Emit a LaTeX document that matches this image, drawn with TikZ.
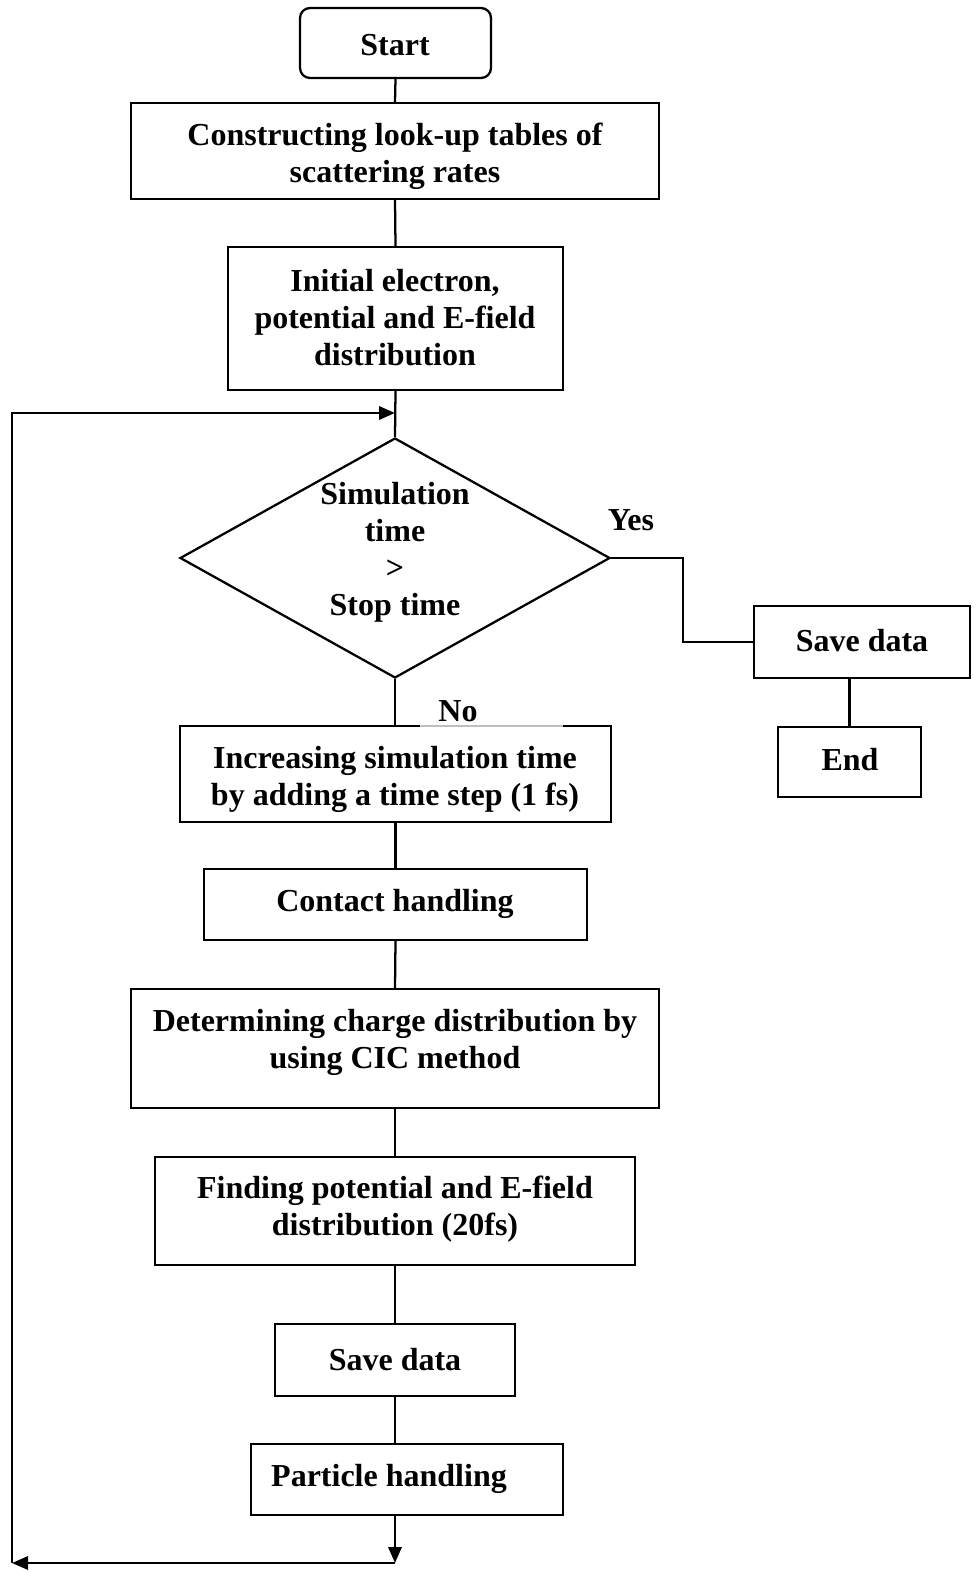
\documentclass[tikz,border=0pt]{standalone}
\usepackage{fontspec}
\setmainfont{Liberation Serif}
\usetikzlibrary{shapes.geometric,arrows.meta}
\tikzset{
  box/.style={draw,line width=1.7pt,inner sep=0pt},
  txt/.style={align=center,font=\bfseries\fontsize{24}{27.8}\selectfont,inner sep=0pt},
  con/.style={line width=1.7pt},
  arr/.style={line width=1.7pt,-{Triangle[length=12pt,width=10pt]}}
}
\begin{document}
\begin{tikzpicture}[x=0.75pt,y=-0.75pt]
\useasboundingbox (0,0) rectangle (977,1573);
% boxes
\node[box,rounded corners=7.5pt,minimum width=143.25pt,minimum height=52.5pt] (start) at (395.5,43) {};
\node[box,minimum width=396pt,minimum height=72pt] (b1) at (395,151) {};
\node[box,minimum width=251.25pt,minimum height=107.25pt] (b2) at (395.5,318.5) {};
\node[box,diamond,minimum width=322.5pt,minimum height=180pt] (dia) at (395,558) {};
\node[box,minimum width=162pt,minimum height=54pt] (saveR) at (862,642) {};
\node[box,minimum width=107.25pt,minimum height=52.5pt] (end) at (849.5,762) {};
\node[box,minimum width=323.25pt,minimum height=72pt] (b3) at (395.5,774) {};
\node[box,minimum width=287.25pt,minimum height=53.25pt] (contact) at (395.5,904.5) {};
\node[box,minimum width=396pt,minimum height=89.25pt] (det) at (395,1048.5) {};
\node[box,minimum width=360pt,minimum height=81pt] (find) at (395,1211) {};
\node[box,minimum width=180pt,minimum height=54pt] (save) at (395,1360) {};
\node[box,minimum width=234pt,minimum height=53.25pt] (part) at (407,1479.5) {};
% texts
\node[txt] (startt) at (395,45) {Start};
\node[txt] (b1t) at (395,156.5) {Constructing look-up tables of\\scattering rates};
\node[txt] (b2t) at (395,318) {Initial electron,\\potential and E-field\\distribution};
\node[txt] (diat) at (395,552) {Simulation\\time\\>\\Stop time};
\node[txt] (yes) at (631,520) {Yes};
\node[txt] (saveRt) at (862,641) {Save data};
\node[txt] (endt) at (850,760) {End};
\node[inner sep=0pt,fill=white,minimum width=107.25pt,minimum height=28.5pt] (nop) at (491.5,709) {};
\coordinate (g1) at (420,726);
\coordinate (g2) at (563,726);
\draw[gray!50,line width=0.8pt] (g1) -- (g2);
\node[txt] (no) at (458,711) {No};
\node[txt] (b3t) at (395,779) {Increasing simulation time\\by adding a time step (1 fs)};
\node[txt] (contactt) at (395,904) {Contact handling};
\node[txt] (dett) at (395,1042) {Determining charge distribution by\\using CIC method};
\node[txt] (findt) at (395,1209) {Finding potential and E-field\\distribution (20fs)};
\node[txt] (savet) at (395,1360) {Save data};
\node[txt] (partt) at (389,1479) {Particle handling};
% coordinates
\coordinate (yc) at (683,600);
\coordinate (bl) at (395,1563);
\coordinate (blx) at (12,1563);
\coordinate (tl) at (12,413);
\coordinate (tj) at (395,413);
% connectors
\draw[con] (start.south) -- (b1.north);
\draw[con] (b1.south) -- (b2.north);
\draw[con] (b2.south) -- (dia.north);
\draw[con] (dia.south) -- (b3.north -| dia.south);
\draw[con] (dia.east) -| (yc) |- (saveR.west);
\draw[con] (end.north |- saveR.south) -- (end.north);
\draw[con] (b3.south) -- (contact.north);
\draw[con] (contact.south) -- (det.north);
\draw[con] (det.south) -- (find.north);
\draw[con] (find.south) -- (save.north);
\draw[con] (save.south) -- (save.south |- part.north);
\draw[arr] (part.south -| bl) -- (bl);
\draw[arr] (bl) -- (blx);
\draw[arr] (blx) -- (tl) -- (tj);
\end{tikzpicture}
\end{document}
